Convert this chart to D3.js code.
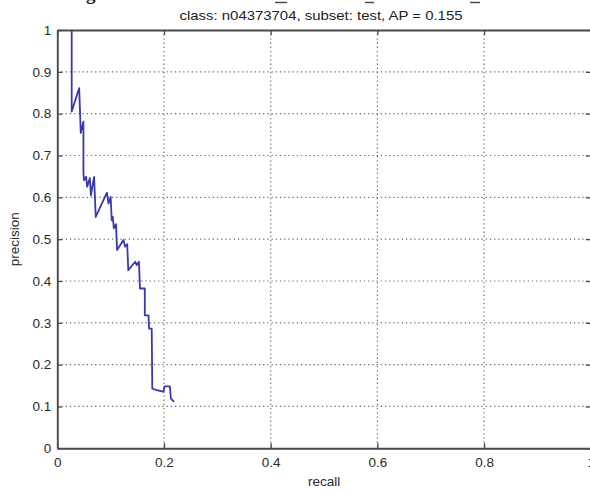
<!DOCTYPE html>
<html>
<head>
<meta charset="utf-8">
<script src="https://cdn.jsdelivr.net/npm/d3@7"></script>
<style>
  body { margin: 0; background: #fff; }
  svg { display: block; font-family: "Liberation Sans", Arial, sans-serif; }
</style>
</head>
<body>
<div id="chart-container"></div>
<script>
// values
const recall = [
  0.027, 0.027, 0.041, 0.044, 0.049, 0.049, 0.05, 0.054, 0.056, 0.061,
  0.063, 0.069, 0.072, 0.093, 0.096, 0.1, 0.102, 0.104, 0.106, 0.11,
  0.112, 0.124, 0.127, 0.131, 0.133, 0.146, 0.149, 0.153, 0.155, 0.164,
  0.164, 0.171, 0.172, 0.177, 0.178, 0.186, 0.194, 0.199, 0.201, 0.211,
  0.213, 0.219,
];
const precision = [
  1.0, 0.805, 0.861, 0.754, 0.781, 0.657, 0.641, 0.649, 0.625, 0.646,
  0.605, 0.649, 0.553, 0.611, 0.585, 0.601, 0.545, 0.553, 0.526, 0.536,
  0.474, 0.498, 0.482, 0.488, 0.426, 0.446, 0.438, 0.446, 0.382, 0.382,
  0.318, 0.318, 0.286, 0.286, 0.143, 0.139, 0.137, 0.135, 0.148, 0.148,
  0.119, 0.111,
];
const xTicks = [0, 0.2, 0.4, 0.6, 0.8, 1];
const yTicks = [0, 0.1, 0.2, 0.3, 0.4, 0.5, 0.6, 0.7, 0.8, 0.9, 1];
const title = "class: n04373704, subset: test, AP = 0.155";

const w = 590;
const h = 492;
const padLeft = 57.3;
const padRight = 590.8;
const padTop = 30;
const padBottom = 448.3;

const svg = d3
  .select("#chart-container")
  .append("svg")
  .attr("width", w)
  .attr("height", h);

const xScale = d3.scaleLinear().domain([0, 1]).range([padLeft, padRight]);
const yScale = d3.scaleLinear().domain([0, 1]).range([padBottom, padTop]);

// leftovers of the cropped line above the figure
svg
  .append("text")
  .attr("x", 86)
  .attr("y", -0.5)
  .attr("font-family", "Liberation Serif, serif")
  .attr("font-weight", "bold")
  .attr("font-size", 19)
  .attr("fill", "#222")
  .text("g");
[[275, 287], [365, 374], [470, 480]].forEach((s) => {
  svg
    .append("line")
    .attr("x1", s[0])
    .attr("x2", s[1])
    .attr("y1", 2.5)
    .attr("y2", 2.5)
    .attr("stroke", "#444")
    .attr("stroke-width", 1.4);
});

// dotted grid
svg
  .append("g")
  .selectAll("line")
  .data(xTicks.slice(1, -1))
  .enter()
  .append("line")
  .attr("x1", (d) => xScale(d))
  .attr("x2", (d) => xScale(d))
  .attr("y1", padTop)
  .attr("y2", padBottom)
  .attr("stroke", "#6f6f6f")
  .attr("stroke-width", 1.2)
  .attr("stroke-dasharray", "1.3,2.9");

svg
  .append("g")
  .selectAll("line")
  .data(yTicks.slice(1, -1))
  .enter()
  .append("line")
  .attr("x1", padLeft)
  .attr("x2", padRight)
  .attr("y1", (d) => yScale(d))
  .attr("y2", (d) => yScale(d))
  .attr("stroke", "#6f6f6f")
  .attr("stroke-width", 1.2)
  .attr("stroke-dasharray", "1.3,2.9");

// axes, ticks pointing inward like matlab
const xAxis = d3.axisBottom(xScale).tickValues(xTicks).tickFormat(d3.format("~g")).tickSizeInner(-5).tickSizeOuter(0).tickPadding(9);
const xAxisTop = d3.axisTop(xScale).tickValues(xTicks).tickFormat("").tickSizeInner(-5).tickSizeOuter(0);
const yAxis = d3.axisLeft(yScale).tickValues(yTicks).tickFormat(d3.format("~g")).tickSizeInner(-5).tickSizeOuter(0).tickPadding(6);
const yAxisRight = d3.axisRight(yScale).tickValues(yTicks).tickFormat("").tickSizeInner(-5).tickSizeOuter(0);

const gx = svg.append("g").attr("transform", "translate(0," + padBottom + ")").call(xAxis);
const gxt = svg.append("g").attr("transform", "translate(0," + padTop + ")").call(xAxisTop);
const gy = svg.append("g").attr("transform", "translate(" + padLeft + ",0)").call(yAxis);
const gyr = svg.append("g").attr("transform", "translate(" + padRight + ",0)").call(yAxisRight);

[gx, gxt, gy, gyr].forEach((g) => {
  g.select(".domain").attr("stroke", "#4a4a4a").attr("stroke-width", 1.9);
  g.selectAll(".tick line").attr("stroke", "#4a4a4a").attr("stroke-width", 1.3);
  g.selectAll(".tick text")
    .attr("fill", "#2a2a2a")
    .attr("font-size", 13.5)
    .attr("font-family", "Liberation Sans, Arial, sans-serif");
});

// the precision/recall curve
const line = d3
  .line()
  .x((d, i) => xScale(recall[i]))
  .y((d, i) => yScale(precision[i]));

svg
  .append("path")
  .datum(recall)
  .attr("d", line)
  .attr("fill", "none")
  .attr("stroke", "#3a3aae")
  .attr("stroke-width", 1.8)
  .attr("stroke-linejoin", "round");

// labels
svg
  .append("text")
  .attr("x", 321)
  .attr("y", 19.5)
  .attr("text-anchor", "middle")
  .attr("font-size", 13.5)
  .attr("textLength", 283)
  .attr("lengthAdjust", "spacingAndGlyphs")
  .attr("fill", "#222")
  .text(title);

svg
  .append("text")
  .attr("x", (padLeft + padRight) / 2)
  .attr("y", 486)
  .attr("text-anchor", "middle")
  .attr("font-size", 13.5)
  .attr("fill", "#2a2a2a")
  .text("recall");

svg
  .append("text")
  .attr("transform", "translate(19," + (padTop + padBottom) / 2 + ") rotate(-90)")
  .attr("text-anchor", "middle")
  .attr("font-size", 13.5)
  .attr("fill", "#2a2a2a")
  .text("precision");
</script>
</body>
</html>
